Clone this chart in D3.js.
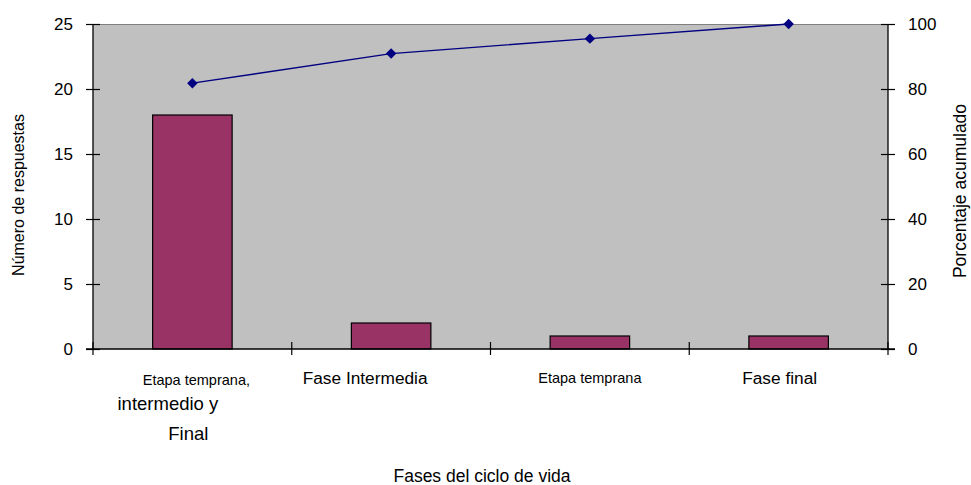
<!DOCTYPE html>
<html>
<head>
<meta charset="utf-8">
<script src="https://cdn.jsdelivr.net/npm/d3@7"></script>
<style>
  body { margin: 0; background: #fff; }
  text { font-family: "Liberation Sans", Arial, sans-serif; fill: #000; }
</style>
</head>
<body>
<svg id="chart" width="971" height="485"></svg>
<script>
const categories = ["c1", "c2", "c3", "c4"];
const counts = [18, 2, 1, 1];
const cumulativePct = [81.8, 90.9, 95.5, 100];
const leftTicks = [0, 5, 10, 15, 20, 25];
const rightTicks = [0, 20, 40, 60, 80, 100];
const categoryLabels = [
  [{t: "Etapa temprana,", s: 14.5, dx: 4, dy: 0}, {t: "intermedio y", s: 18.5, dx: -24.5, dy: 25}, {t: "Final", s: 18.5, dx: -4, dy: 55}],
  [{t: "Fase Intermedia", s: 17.3, dx: -26, dy: -1}],
  [{t: "Etapa temprana", s: 14.5, dx: 0, dy: -2}],
  [{t: "Fase final", s: 17.3, dx: -9, dy: -1}]
];

const svg = d3.select("#chart");
const m = {left: 93, right: 888, top: 24, bottom: 349};

const x = d3.scaleBand().domain(categories).range([m.left, m.right]).paddingInner(0).paddingOuter(0);
const y = d3.scaleLinear().domain([0, 25]).range([m.bottom, m.top]);
const y2 = d3.scaleLinear().domain([0, 100]).range([m.bottom, m.top]);

// plot area
svg.append("rect").attr("x", m.left).attr("y", m.top)
  .attr("width", m.right - m.left).attr("height", m.bottom - m.top)
  .attr("fill", "#c0c0c0");
svg.append("line").attr("x1", m.left).attr("x2", m.right).attr("y1", m.top + 0.5).attr("y2", m.top + 0.5)
  .attr("stroke", "#808080").attr("stroke-width", 1);

// bars
const bw = x.bandwidth() * 0.4;
svg.selectAll("rect.bar").data(counts).join("rect").attr("class", "bar")
  .attr("x", (d, i) => x(categories[i]) + (x.bandwidth() - bw) / 2)
  .attr("y", d => y(d))
  .attr("width", bw)
  .attr("height", d => y(0) - y(d))
  .attr("fill", "#993366").attr("stroke", "#000").attr("stroke-width", 1.2);

// left axis
const gl = svg.append("g").attr("transform", `translate(${m.left},0)`)
  .call(d3.axisLeft(y).tickValues(leftTicks).tickSize(7).tickPadding(13).tickFormat(d3.format("d")));
gl.selectAll(".tick line").attr("x2", -7).attr("x1", 7);
// right axis
const gr = svg.append("g").attr("transform", `translate(${m.right},0)`)
  .call(d3.axisRight(y2).tickValues(rightTicks).tickSize(7).tickPadding(13).tickFormat(d3.format("d")));
gr.selectAll(".tick line").attr("x1", -7).attr("x2", 7);
[gl, gr].forEach(g => {
  g.select(".domain").attr("d", `M0,${m.top}V${m.bottom}`).attr("stroke", "#000").attr("stroke-width", 1.3);
  g.selectAll(".tick line").attr("stroke", "#000").attr("stroke-width", 1.2);
  g.selectAll(".tick text").attr("font-size", 17).attr("font-family", "Liberation Sans, Arial, sans-serif").attr("fill", "#000");
});

// bottom axis
const boundaries = categories.map(c => x(c)).concat([m.right]);
svg.append("line").attr("x1", m.left - 7).attr("x2", m.right + 7).attr("y1", m.bottom).attr("y2", m.bottom)
  .attr("stroke", "#000").attr("stroke-width", 1.3);
svg.selectAll("line.xtick").data(boundaries).join("line").attr("class", "xtick")
  .attr("x1", d => d).attr("x2", d => d).attr("y1", m.bottom - 7).attr("y2", m.bottom + 6)
  .attr("stroke", "#000").attr("stroke-width", 1.2);

// category labels
categories.forEach((c, i) => {
  const cx = x(c) + x.bandwidth() / 2;
  categoryLabels[i].forEach(l => {
    svg.append("text").attr("x", cx + l.dx).attr("y", 385 + l.dy)
      .attr("text-anchor", "middle").attr("font-size", l.s).text(l.t);
  });
});

// cumulative line
const line = d3.line().x((d, i) => x(categories[i]) + x.bandwidth() / 2).y(d => y2(d));
svg.append("path").datum(cumulativePct).attr("d", line)
  .attr("fill", "none").attr("stroke", "#000080").attr("stroke-width", 1.4);
svg.selectAll("path.mk").data(cumulativePct).join("path").attr("class", "mk")
  .attr("d", d3.symbol(d3.symbolDiamond2, 70))
  .attr("transform", (d, i) => `translate(${x(categories[i]) + x.bandwidth() / 2},${y2(d)})`)
  .attr("fill", "#000080");

// titles
svg.append("text").attr("transform", "translate(24,195) rotate(-90)")
  .attr("text-anchor", "middle").attr("font-size", 16).text("Número de respuestas");
svg.append("text").attr("transform", "translate(966,191) rotate(-90)")
  .attr("text-anchor", "middle").attr("font-size", 17.5).text("Porcentaje acumulado");
svg.append("text").attr("x", 482).attr("y", 482)
  .attr("text-anchor", "middle").attr("font-size", 17.5).text("Fases del ciclo de vida");
</script>
</body>
</html>
